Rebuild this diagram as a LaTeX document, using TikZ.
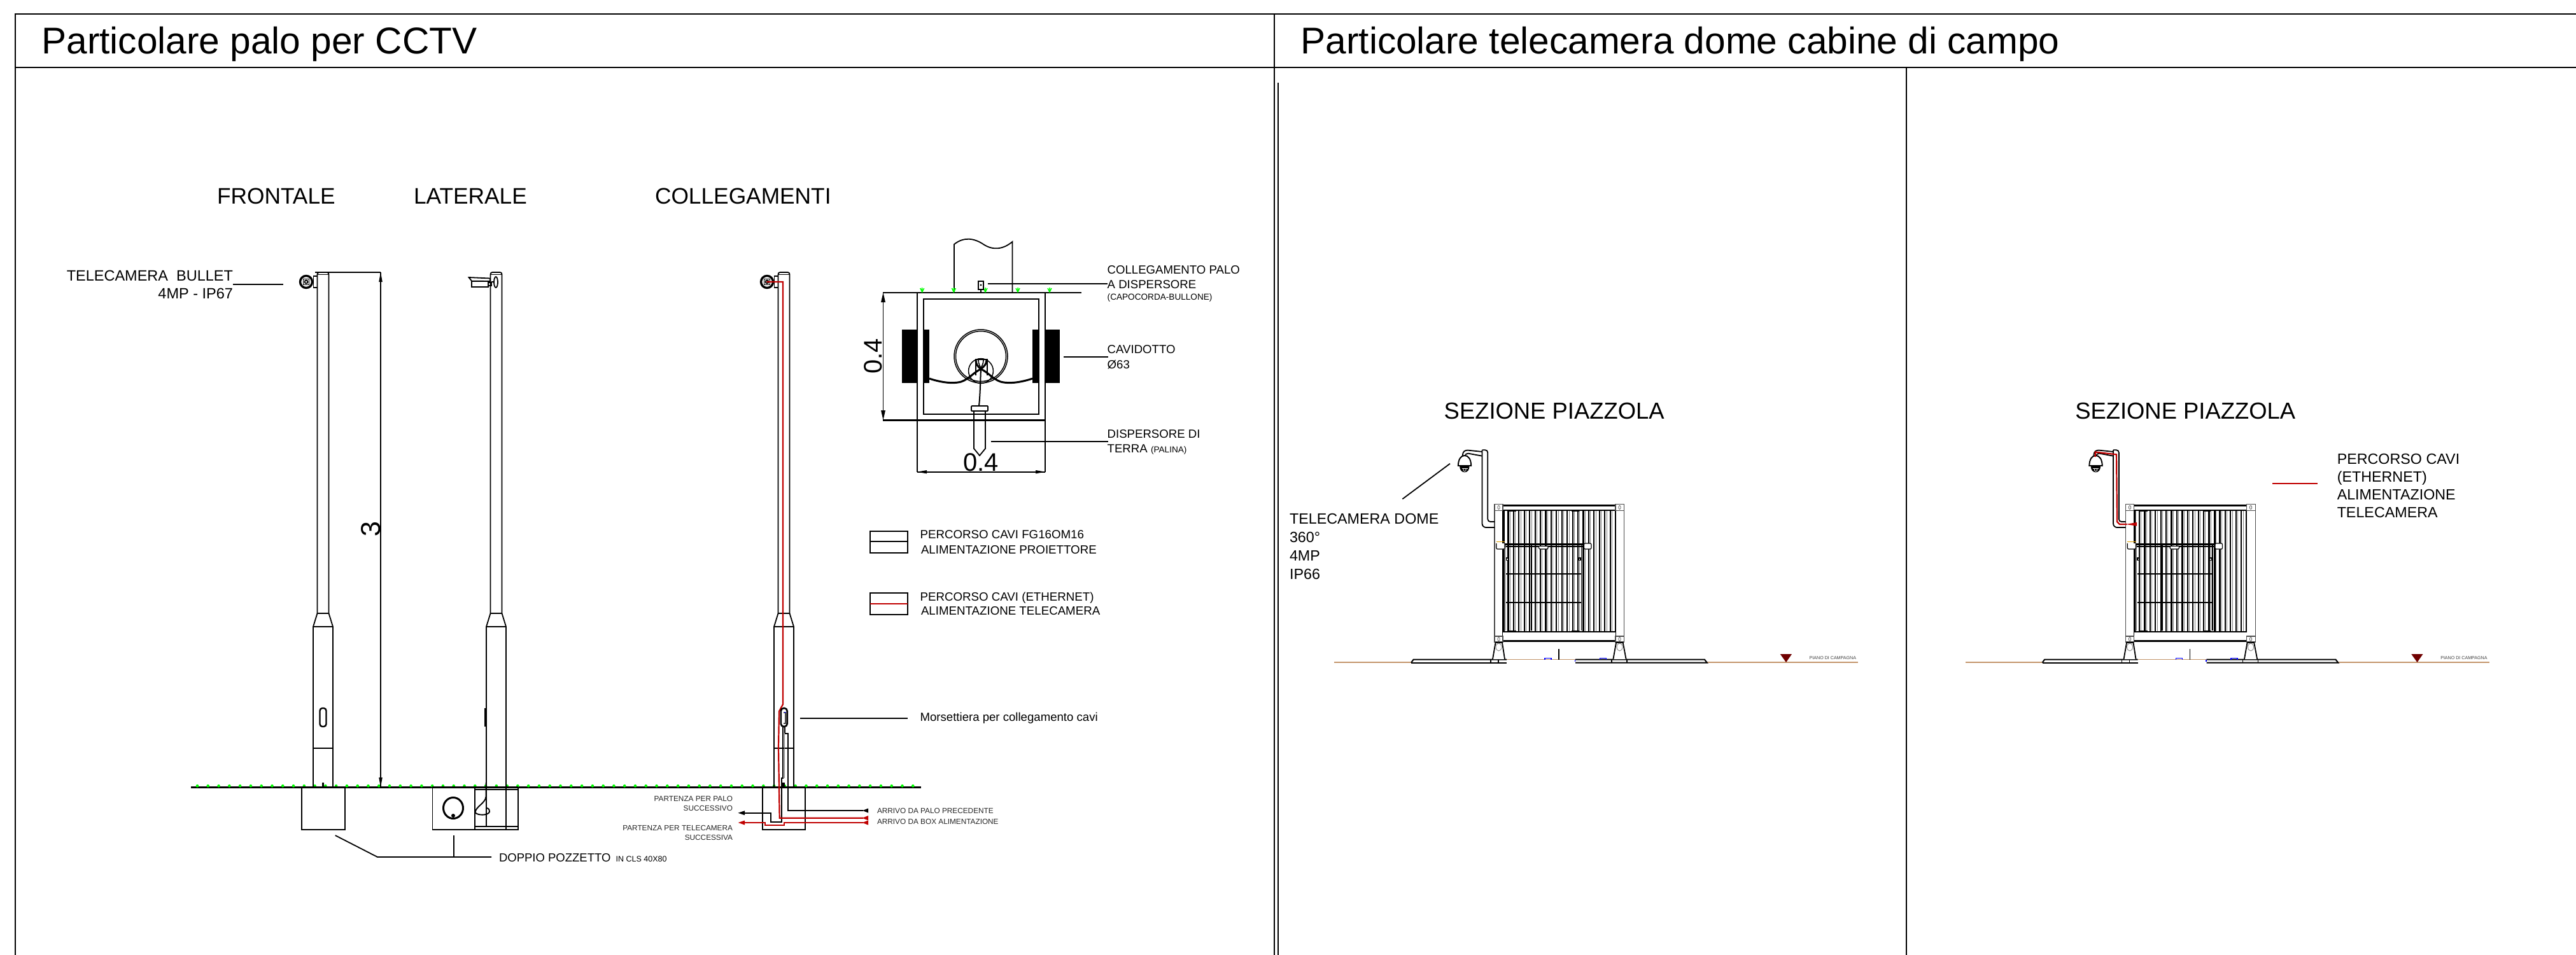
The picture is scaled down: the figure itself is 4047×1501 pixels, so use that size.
\documentclass[tikz,border=0pt]{standalone}
\usepackage{fontspec}
\setmainfont{Liberation Sans}
\newcommand{\fs}[1]{\fontsize{#1bp}{#1bp}\selectfont}
\definecolor{cablered}{RGB}{192,0,0}
\definecolor{grassgreen}{RGB}{0,255,0}
\definecolor{soilbrown}{RGB}{196,150,108}
\definecolor{levelred}{RGB}{112,0,0}
\definecolor{hingeorange}{RGB}{224,160,0}
\tikzset{
  ln/.style={draw=black,line width=1.8bp},
  thn/.style={draw=black,line width=1.2bp},
  thk/.style={draw=black,line width=2.8bp},
  frame/.style={draw=black,line width=2.2bp},
  redc/.style={draw=cablered,line width=2.2bp},
  txt/.style={inner sep=0pt,outer sep=0pt,anchor=base west,text=black},
  txtr/.style={inner sep=0pt,outer sep=0pt,anchor=base east,text=black},
  txtc/.style={inner sep=0pt,outer sep=0pt,anchor=base,text=black},
}
% pole, in a scope shifted to its axis
\newcommand{\poleshape}{%
  \draw[ln,rounded corners=3bp] (-9,964) -- (-9,428) -- (9,428) -- (9,964);
  \draw[thn] (-9,431.5) -- (9,431.5);
  \draw[thn] (-9,964) -- (9,964);
  \draw[ln] (-9,964) -- (-15.5,985) -- (-15.5,1237);
  \draw[ln] (9,964) -- (15.5,985) -- (15.5,1237);
  \draw[ln] (-15.5,985) -- (15.5,985);
}
\newcommand{\frontcam}{%
  \draw[draw=black,line width=3.4bp] (-26.5,443) circle[radius=9.5bp];
  \draw[ln] (-31,438.5) rectangle (-22,447.5);
  \draw[ln] (-26.5,443) circle[radius=2.5bp];
  \draw[ln] (-15,434) rectangle (-9,452);
  \draw[ln] (-16.5,443) -- (-15,443);
}
\newcommand{\piazzola}[1]{%
  \node[txt] (sez#1) at (2268.7,658) {\fs{36.4}SEZIONE PIAZZOLA};
  % ground
  \draw[draw=soilbrown,line width=1.8bp] (2096,1041) -- (2919,1041);
  \draw[draw=soilbrown,line width=1.8bp] (2367,1037) -- (2475,1037);
  \fill[levelred] (2796.7,1028) -- (2815,1028) -- (2806,1041) -- cycle;
  \node[txt,text=black!75] (piano#1) at (2842.7,1036.7) {\fs{7.1}PIANO DI CAMPAGNA};
  % platform
  \fill[white] (2217,1036.5) rectangle (2682,1042);
  \draw[ln,line width=2bp] (2217,1041.5) -- (2220.5,1036.7) -- (2367,1036.7);
  \draw[ln,line width=2bp] (2217,1041.5) -- (2367,1041.5);
  \draw[ln,line width=2bp] (2475,1036.7) -- (2678,1036.7) -- (2681.7,1041.5) -- (2475,1041.5);
  \draw[thn] (2342,1036.7) -- (2342,1041.5) (2354,1036.7) -- (2354,1041.5) (2532,1036.7) -- (2532,1041.5) (2556,1036.7) -- (2556,1041.5);
  \draw[draw=blue,line width=1.4bp] (2427,1037) -- (2427,1034.7) -- (2436.8,1034.7) -- (2436.8,1037);
  \draw[draw=blue,line width=1.4bp] (2513.3,1037) -- (2513.3,1034.7) -- (2523.6,1034.7) -- (2523.6,1037);
  \draw[draw=blue,line width=1.4bp] (2474.5,1037) -- (2474.5,1040);
  \draw[thn] (2449,1020) -- (2449,1037);
  % fence bars
  \foreach \i in {0,...,21}{
    \draw[draw=black,line width=2.2bp] ({2361+\i*8.43},802) -- ({2361+\i*8.43},993);
    \draw[draw=black!50,line width=0.9bp] ({2363.8+\i*8.43},802) -- ({2363.8+\i*8.43},993);
  }
  % posts
  \draw[draw=black!70,line width=1.3bp,fill=white] (2348,793) rectangle (2361,1008);
  \draw[draw=black!70,line width=1.3bp,fill=white] (2538,793) rectangle (2551.6,1008);
  \draw[draw=black,line width=1.8bp] (2361,793) -- (2361,1008) (2538,793) -- (2538,1008);
  % rails
  \fill[white] (2361,795) rectangle (2538,802);
  \fill[white] (2361,993) rectangle (2538,1007);
  \draw[thk] (2359,794.3) -- (2538,794.3);
  \draw[ln] (2361,802.3) -- (2538,802.3);
  \draw[ln] (2361,993.3) -- (2538,993.3);
  \draw[thk] (2361,1007.3) -- (2538,1007.3);
  % plates
  \draw[draw=black!70,line width=1.3bp,fill=white] (2348,792.7) rectangle (2361,802.3);
  \draw[draw=black!70,line width=1.3bp,fill=white] (2538,792.7) rectangle (2551.6,802.3);
  \draw[draw=black!70,line width=1.3bp,fill=white] (2348,1000) rectangle (2361,1009);
  \draw[draw=black!70,line width=1.3bp,fill=white] (2538,1000) rectangle (2551.6,1009);
  \draw[draw=black!60,line width=0.8bp] (2354.5,797.5) ellipse[x radius=1.7bp,y radius=3bp] (2544.5,797.5) ellipse[x radius=1.7bp,y radius=3bp] (2354.5,1004.5) ellipse[x radius=1.7bp,y radius=3bp] (2544.5,1004.5) ellipse[x radius=1.7bp,y radius=3bp];
  % gate
  \draw[draw=black,line width=3bp] (2362,802) -- (2362,993);
  \draw[draw=black,line width=3bp] (2487.5,802) -- (2487.5,993);
  \draw[draw=black,line width=3bp] (2361,855) -- (2488,855);
  \draw[ln] (2364,859) -- (2486,859);
  \draw[ln] (2366,901.7) -- (2484.6,901.7);
  \draw[ln] (2366,946.7) -- (2484.6,946.7);
  \draw[draw=black,line width=2.2bp] (2405.7,857) -- (2405.7,991);
  \draw[draw=black!50,line width=1bp] (2365.4,857) -- (2365.4,991);
  \draw[ln] (2484.5,857) -- (2484.5,991);
  \draw[draw=black,line width=2.4bp] (2370,802.5) -- (2382.4,802.5) (2469,802.5) -- (2481,802.5) (2370,992.5) -- (2382.4,992.5) (2469,992.5) -- (2481,992.5);
  \draw[thn,fill=white] (2366.5,877) rectangle (2369.5,880.5);
  \draw[thn,fill=white] (2480,877) rectangle (2483,880.5);
  % hinges
  \draw[thn,fill=white,rounded corners=2bp] (2350.7,854) -- (2350.7,863) -- (2364,863) -- (2364,854);
  \draw[draw=hingeorange,line width=1.3bp] (2350.7,851.5) -- (2364,851.5);
  \draw[thn,fill=white,rounded corners=2bp] (2488.4,854) -- (2488.4,863) -- (2500,863) -- (2500,854) -- cycle;
  \draw[thn,fill=white,rounded corners=1.5bp] (2417.6,859) -- (2417.6,863) -- (2432,863) -- (2432,859);
  % feet
  \draw[ln,fill=white] (2345,1036) -- (2349.5,1010) -- (2360,1010) -- (2364,1036);
  \draw[ln,fill=white] (2534.4,1036) -- (2539,1010) -- (2549.7,1010) -- (2554.6,1036);
  \draw[draw=black!45,line width=0.9bp] (2354.5,1017) ellipse[x radius=4.5bp,y radius=6bp] (2544.5,1017) ellipse[x radius=4.5bp,y radius=6bp];
  % bent support pole
  \draw[ln,rounded corners=4bp] (2328.5,707.3) -- (2337.3,707.3) -- (2337.3,820) -- (2348,820);
  \draw[ln,rounded corners=6bp] (2328.5,707.3) -- (2328.5,829) -- (2348,829);
  % arm
  \draw[ln,rounded corners=3bp] (2328.5,710) -- (2303,707.3) -- (2298,711) -- (2298,717);
  \draw[ln,rounded corners=2bp] (2328.5,716.7) -- (2304.7,712.3) -- (2301.7,715) -- (2301.7,717);
  % dome camera
  \draw[draw=black,line width=1.9bp,fill=white] (2290.8,732) .. controls (2291,722) and (2295,716) .. (2301,716) .. controls (2307,716) and (2311,722) .. (2311.2,732) -- cycle;
  \fill[black] (2293,732) .. controls (2293,738) and (2296,742.3) .. (2301,742.3) .. controls (2306,742.3) and (2308.6,738) .. (2308.6,732) -- cycle;
  \fill[white] (2296.5,735.5) rectangle (2305.5,736.5);
  \draw[draw=white,line width=0.7bp] (2301,738.5) circle[radius=2.2bp];
}
\begin{document}
\begin{tikzpicture}[x=1bp,y=-1bp]
\useasboundingbox (0,0) rectangle (4047,1501);
\fill[white] (0,0) rectangle (4047,1501);
% ---- frames
\draw[frame] (24,1501) -- (24,22) -- (4047,22);
\draw[frame,line width=2.6bp] (24,106) -- (4047,106);
\draw[ln,line width=2.2bp] (2002,22) -- (2002,1501);
\draw[ln,line width=2.2bp] (2008,130) -- (2008,1501);
\draw[ln,line width=2bp] (2994.5,106) -- (2994.5,1501);
\node[txt] (title1) at (65.5,85) {\fs{58.6}Particolare palo per CCTV};
\node[txt] (title2) at (2043.5,85) {\fs{58.6}Particolare telecamera dome cabine di campo};
% ---- view headings
\node[txt] (hfront) at (341,320) {\fs{35.3}FRONTALE};
\node[txt] (hlat) at (650,320) {\fs{35.3}LATERALE};
\node[txt] (hcoll) at (1029,320) {\fs{35.3}COLLEGAMENTI};
% ---- ground
\draw[draw=black,line width=2.2bp] (300,1237.5) -- (1447,1237.5);
\foreach \i in {0,...,67}{\fill[grassgreen] ({310+\i*16.78},1235.2) circle[radius=2.3bp];}
% ---- frontal pole
\begin{scope}[xshift=507.5bp]
  \poleshape
  \frontcam
  \draw[ln] (-15.5,1176) -- (15.5,1176);
  \draw[draw=black,line width=2.4bp,rounded corners=4bp] (-5,1113) rectangle (5,1142);
  \draw[draw=black,line width=2.2bp] (0,1230) -- (0,1236);
\end{scope}
\draw[ln] (474,1237) -- (474,1304) -- (541.6,1304) -- (541.6,1237);
\draw[thk] (474,1237) -- (541.6,1237);
% height dimension
\draw[ln] (495,428) -- (598,428);
\draw[thn] (598,428) -- (598,1238);
\fill[black] (598,428) -- (595.2,443) -- (600.8,443) -- cycle;
\fill[black] (598,1237) -- (595.2,1222) -- (600.8,1222) -- cycle;
\node[txtc,rotate=90] (dim3) at (597,832) {\fs{43}3};
% camera label
\node[txtr] (cam1a) at (366,441) {\fs{23.5}TELECAMERA\ \ BULLET};
\node[txtr] (cam1b) at (366,469) {\fs{23.5}4MP - IP67};
\draw[ln] (cam1a.base east |- 0,447) -- (445,447);
% ---- lateral pole
\begin{scope}[xshift=779.5bp]
  \poleshape
\end{scope}
\draw[ln,fill=white] (736.6,436) -- (770,437.5) -- (770,442) -- (741,441.7) -- cycle;
\draw[ln,fill=white] (741,441.7) rectangle (767,451);
\draw[ln] (767,444) rectangle (772,449);
\draw[ln] (772,443) -- (776,443);
\draw[ln] (779,443.5) ellipse[x radius=3bp,y radius=8.5bp];
\draw[draw=black,line width=2.4bp] (762.6,1113) -- (762.6,1142);
% lateral pit
\draw[ln] (679.4,1237) -- (679.4,1304) -- (813.7,1304) -- (813.7,1237);
\draw[thk] (679.4,1237) -- (813.7,1237);
\draw[ln] (746,1237) -- (746,1304);
\draw[ln] (679.4,1304) -- (813.7,1304);
\draw[ln] (764.3,1237) -- (764.3,1299) (795,1237) -- (795,1304);
\draw[ln] (746,1241) -- (813.7,1241);
\draw[ln] (746,1299) -- (813.7,1299);
\draw[draw=black,line width=3bp] (712,1270) ellipse[x radius=15.5bp,y radius=16.5bp];
\fill[black] (712,1282) circle[radius=3bp];
\draw[draw=black,line width=1.9bp] (763.5,1230) -- (763.5,1252) .. controls (763,1262) and (747,1268) .. (746.5,1277) .. controls (750,1282) and (767,1282) .. (769,1276) .. controls (769,1272) and (767,1270) .. (765,1270);
% ---- pit leader
\draw[ln] (526.7,1313) -- (593,1347) -- (772,1347);
\draw[ln] (712.7,1313) -- (712.7,1347);
\node[txt] (pozz) at (784,1354) {\fs{18.5}DOPPIO POZZETTO};
\node[txt] (pozz2) at (967.6,1354) {\fs{12.5}IN CLS 40X80};
% ---- connections pole
\begin{scope}[xshift=1231.5bp]
  \poleshape
  \frontcam
  \draw[ln] (-15.5,1176) -- (15.5,1176);
\end{scope}
\draw[ln] (1198,1237) -- (1198,1304) -- (1265,1304) -- (1265,1237);
\draw[thk] (1198,1237) -- (1265,1237);
% cables
\draw[draw=black,line width=1.9bp] (1233,1142) -- (1233,1152.7) -- (1238.4,1152.7) -- (1238.4,1274) -- (1356,1274);
\fill[black] (1355,1274) -- (1364,1270.5) -- (1364,1277.5) -- cycle;
\draw[draw=black,line width=2bp] (1230,1142) -- (1230,1223) -- (1228,1223) -- (1228,1291.7) -- (1210.6,1291.7) -- (1210.6,1277.7) -- (1165,1277.7);
\fill[black] (1159.6,1277.7) -- (1170,1274.2) -- (1170,1281.2) -- cycle;
\draw[draw=black!55,line width=0.9bp] (1232,1152) -- (1232,1223);
\fill[black] (1228,1230) rectangle (1233,1237);
\draw[redc] (1204.4,443) -- (1230,443) -- (1230,1107) -- (1224,1118) -- (1223,1175) -- (1224.7,1285.7) -- (1356,1285.7);
\fill[cablered] (1354.5,1285.7) -- (1364,1282) -- (1364,1289.4) -- cycle;
\draw[redc] (1165,1293) -- (1202,1293) -- (1202,1297) -- (1232,1297) -- (1232,1293) -- (1356,1293);
\fill[cablered] (1354.5,1293) -- (1364,1289.4) -- (1364,1296.6) -- cycle;
\fill[cablered] (1159.6,1293) -- (1170,1289.5) -- (1170,1296.5) -- cycle;
% terminal block slot
\draw[draw=black,line width=2.6bp,rounded corners=4.5bp,fill=white] (1226.8,1113) rectangle (1236.7,1142);
\draw[draw=black!70,line width=1.2bp] (1231,1120) -- (1234,1120) -- (1234,1137) -- (1231,1137);
\draw[draw=blue,line width=0.8bp] (1232,1119) -- (1234.5,1119);
% cable labels
\node[txtr,text=black!85] (part1a) at (1151,1259) {\fs{11.8}PARTENZA PER PALO};
\node[txtr,text=black!85] (part1b) at (1151,1274) {\fs{11.8}SUCCESSIVO};
\node[txtr,text=black!85] (part2a) at (1151,1305) {\fs{11.8}PARTENZA PER TELECAMERA};
\node[txtr,text=black!85] (part2b) at (1151,1320) {\fs{11.8}SUCCESSIVA};
\node[txt,text=black!85] (arr1) at (1378,1278) {\fs{11.8}ARRIVO DA PALO PRECEDENTE};
\node[txt,text=black!85] (arr2) at (1378,1295) {\fs{11.8}ARRIVO DA BOX ALIMENTAZIONE};
\draw[ln] (1257,1129) -- (1426,1129);
\node[txt] (mors) at (1445.6,1133) {\fs{18.6}Morsettiera per collegamento cavi};
% ---- legend
\draw[ln] (1366.6,834.7) rectangle (1426,868.7);
\draw[ln] (1366.6,851) -- (1426,851);
\node[txt] (leg1a) at (1445.6,846.7) {\fs{18.7}PERCORSO CAVI FG16OM16};
\node[txt] (leg1b) at (1447,870) {\fs{18.7}ALIMENTAZIONE PROIETTORE};
\draw[ln] (1366.6,932.3) rectangle (1426,965.7);
\draw[redc] (1367,948.7) -- (1425.5,948.7);
\node[txt] (leg2a) at (1445.6,944.7) {\fs{18.7}PERCORSO CAVI (ETHERNET)};
\node[txt] (leg2b) at (1447,966.7) {\fs{18.7}ALIMENTAZIONE TELECAMERA};
% ---- plan of the pit
\draw[ln] (1499,460) -- (1499,384) .. controls (1514,372) and (1530,374) .. (1545,384) .. controls (1560,394) and (1576,392) .. (1590.4,380) -- (1590.4,460);
\draw[thk] (1386.5,460) -- (1699,460);
\draw[thk] (1386.5,660.7) -- (1642,660.7);
\foreach \gx in {1448.7,1498.4,1548,1599,1649}{
  \draw[draw=grassgreen,line width=1.5bp] (\gx-3,453) -- (\gx,459) -- (\gx+3,453) (\gx,452) -- (\gx,459);
}
\draw[ln] (1441,460) -- (1441,741.7) (1642,460) -- (1642,741.7);
\draw[ln,line width=2.2bp] (1450.6,470) rectangle (1632,650.7);
% ducts
\fill[black] (1417,518) rectangle (1441,601.7);
\fill[black] (1642,518) rectangle (1665,601.7);
\fill[black] (1450.6,518) rectangle (1460,601.7);
\fill[black] (1622,518) rectangle (1632.7,601.7);
% conduit circles
\draw[ln,line width=1.5bp] (1541,560) circle[radius=42bp];
\draw[ln,line width=1.5bp] (1541,560) circle[radius=39.5bp];
\draw[ln,line width=1.5bp] (1541,583) circle[radius=19.4bp];
\draw[ln] (1533,590) -- (1533,565) -- (1551,565) -- (1551,590);
% cables
\draw[draw=black,line width=3bp] (1460,595) .. controls (1475,600) and (1495,604) .. (1510,600) .. controls (1522,596) and (1530,585) .. (1541,580) .. controls (1546,576) and (1550,572) .. (1550,566);
\draw[draw=black,line width=3bp] (1622,595) .. controls (1607,600) and (1587,604) .. (1572,600) .. controls (1560,596) and (1552,585) .. (1541,580) .. controls (1536,576) and (1533,572) .. (1533,566);
\draw[draw=black,line width=1.6bp] (1537,566) .. controls (1537,572) and (1540,575) .. (1541,580) .. controls (1542,575) and (1545,572) .. (1545,566);
\draw[draw=black,line width=2bp] (1541,580) .. controls (1540,600) and (1540,620) .. (1538,638);
% ground rod
\draw[ln,fill=white,rounded corners=1bp] (1526,638) rectangle (1552,646);
\draw[ln] (1530,646) -- (1530,705) -- (1539,716) -- (1548,705) -- (1548,646);
\draw[thn] (1530,650.7) -- (1548,650.7);
% bolt
\draw[ln,line width=2.2bp,fill=white] (1537,442) rectangle (1545,455);
\fill[black] (1541,448) circle[radius=1.6bp];
\draw[ln] (1541,455) -- (1541,460);
% plan dimensions
\draw[ln] (1387.5,460) -- (1387.5,660);
\fill[black] (1387.5,460) -- (1384,475) -- (1391,475) -- cycle;
\fill[black] (1387.5,660) -- (1384,645) -- (1391,645) -- cycle;
\node[txtc,rotate=90] (dim04a) at (1385,560) {\fs{40}0.4};
\draw[ln] (1441,741.7) -- (1642,741.7);
\fill[black] (1441,741.7) -- (1456,739) -- (1456,744.4) -- cycle;
\fill[black] (1642,741.7) -- (1627,739) -- (1627,744.4) -- cycle;
\node[txtc] (dim04b) at (1541,740) {\fs{40}0.4};
% plan labels
\draw[ln] (1551.6,445.7) -- (1740,445.7);
\node[txt] (coll1) at (1739.7,430.7) {\fs{18.6}COLLEGAMENTO PALO};
\node[txt] (coll2) at (1739.7,453) {\fs{18.6}A DISPERSORE};
\node[txt] (coll3) at (1739.7,471.7) {\fs{13.6}(CAPOCORDA-BULLONE)};
\draw[ln] (1671,560.7) -- (1740.7,560.7);
\node[txt] (cav1) at (1739.7,555.7) {\fs{18.6}CAVIDOTTO};
\node[txt] (cav2) at (1739.7,579) {\fs{18.6}Ø63};
\draw[ln] (1556.6,694) -- (1740.7,694);
\node[txt] (disp1) at (1739.7,688) {\fs{18.6}DISPERSORE DI};
\node[txt] (disp2) at (1739.7,711) {\fs{18.6}TERRA};
\node[txt] (disp3) at (1808,711) {\fs{13.6}(PALINA)};
% ---- right panels
\piazzola{a}
\draw[ln] (2278,728.7) -- (2203.3,784.3);
\node[txt] (tc1) at (2026,823) {\fs{23.3}TELECAMERA DOME};
\node[txt] (tc2) at (2026,852) {\fs{23.3}360°};
\node[txt] (tc3) at (2026,881) {\fs{23.3}4MP};
\node[txt] (tc4) at (2026,910) {\fs{23.3}IP66};
\begin{scope}[xshift=991.5bp]
  \piazzola{b}
  \draw[redc] (2300.2,718) -- (2300.2,710.5) -- (2333.5,714.3) -- (2334.5,820) -- (2338.5,824) -- (2350,824);
  \fill[cablered] (2348.5,824) -- (2365.5,821) -- (2365.5,826.7) -- cycle;
\end{scope}
\draw[redc] (3570,760) -- (3640.7,760);
\node[txt] (pc1) at (3671.7,729) {\fs{23.3}PERCORSO CAVI};
\node[txt] (pc2) at (3671.7,757) {\fs{23.3}(ETHERNET)};
\node[txt] (pc3) at (3671.7,785) {\fs{23.3}ALIMENTAZIONE};
\node[txt] (pc4) at (3671.7,813) {\fs{23.3}TELECAMERA};
\end{tikzpicture}
\end{document}
